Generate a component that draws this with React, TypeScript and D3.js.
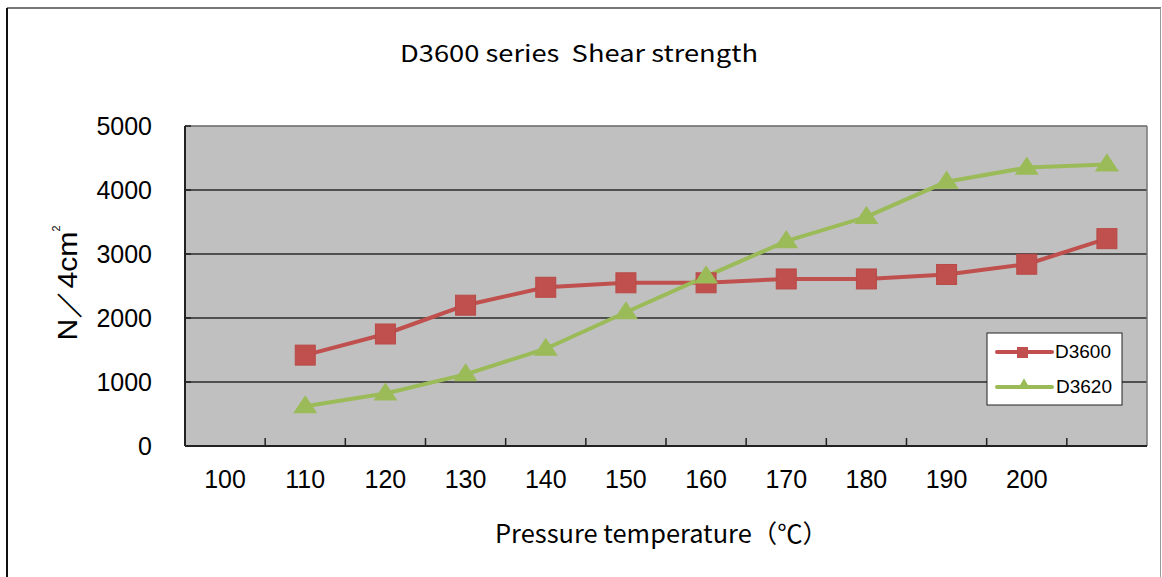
import React from "react";
import * as d3 from "d3";

const categories = ["100", "110", "120", "130", "140", "150", "160", "170", "180", "190", "200", ""];
const pointCategories = ["110", "120", "130", "140", "150", "160", "170", "180", "190", "200", ""];
const d3600 = [1420, 1750, 2200, 2480, 2550, 2550, 2610, 2610, 2680, 2840, 3240];
const d3620 = [620, 820, 1120, 1520, 2090, 2650, 3200, 3580, 4130, 4350, 4400];
const yTicks = [0, 1000, 2000, 3000, 4000, 5000];
const seriesNames = ["D3600", "D3620"];
const title = "D3600 series  Shear strength";
const xTitle = "Pressure temperature（℃）";

const W = 1162;
const H = 577;
const plot = { left: 185, right: 1147, top: 126, bottom: 446 };
const RED = "#C0504D";
const GREEN = "#9BBB59";

export default function App() {
  const x = d3.scaleBand<string>().domain(categories).range([plot.left, plot.right]).padding(0);
  const y = d3.scaleLinear().domain([0, 5000]).range([plot.bottom, plot.top]);
  const cx = (c: string) => (x(c) as number) + x.bandwidth() / 2;
  const line = d3
    .line<number>()
    .x((_, i) => cx(pointCategories[i]))
    .y((d) => y(d));
  const tri = d3.symbol().type(d3.symbolTriangle).size(190)();
  const tickFont = "'Liberation Sans', Arial, sans-serif";
  const jpFont = "'Noto Sans CJK JP', 'Noto Sans', sans-serif";
  const boundaries = categories.map((c) => x(c) as number).slice(1);

  return (
    <svg width={W} height={H} style={{ position: "absolute", left: 0, top: 0, background: "#fff" }}>
      {/* outer frame */}
      <line x1={7} y1={8} x2={1161} y2={8} stroke="#777" strokeWidth={2} />
      <line x1={7} y1={8} x2={7} y2={577} stroke="#111" strokeWidth={2} />
      <line x1={1160.5} y1={8} x2={1160.5} y2={577} stroke="#999" strokeWidth={1} />

      <text x={400} y={62} fontFamily={jpFont} fontSize={23} fill="#000" textLength={358} lengthAdjust="spacingAndGlyphs" style={{ whiteSpace: "pre" }}>
        {title}
      </text>

      {/* plot area */}
      <rect x={plot.left} y={plot.top} width={plot.right - plot.left} height={plot.bottom - plot.top} fill="#C0C0C0" />
      {yTicks.slice(1, -1).map((t) => (
        <line key={t} x1={plot.left} x2={plot.right} y1={y(t)} y2={y(t)} stroke="#2a2a2a" strokeWidth={1.5} />
      ))}
      <line x1={plot.left} x2={plot.right} y1={plot.top} y2={plot.top} stroke="#666" strokeWidth={1.5} />
      <line x1={plot.right} x2={plot.right} y1={plot.top} y2={plot.bottom} stroke="#777" strokeWidth={1.5} />
      <line x1={plot.left} x2={plot.left} y1={plot.top} y2={plot.bottom} stroke="#222" strokeWidth={2} />
      <line x1={plot.left} x2={plot.right} y1={plot.bottom} y2={plot.bottom} stroke="#222" strokeWidth={2} />
      {boundaries.map((b, i) => (
        <line key={i} x1={b} x2={b} y1={plot.bottom} y2={plot.bottom - 8} stroke="#222" strokeWidth={1.5} />
      ))}
      {yTicks.map((t) => (
        <line key={"yt" + t} x1={plot.left} x2={plot.left + 6} y1={y(t)} y2={y(t)} stroke="#222" strokeWidth={1.5} />
      ))}

      {/* y tick labels */}
      {yTicks.map((t) => (
        <text key={"yl" + t} x={152} y={y(t) + 9} textAnchor="end" fontFamily={tickFont} fontSize={25} fill="#000">
          {t}
        </text>
      ))}
      {/* x tick labels */}
      {categories.map((c, i) => (
        <text key={"xl" + i} x={cx(c)} y={488} textAnchor="middle" fontFamily={tickFont} fontSize={25} fill="#000">
          {c}
        </text>
      ))}

      {/* axis titles */}
      <text x={495} y={543} fontFamily={jpFont} fontSize={25} fill="#000" textLength={333} lengthAdjust="spacingAndGlyphs">
        {xTitle}
      </text>
      <text transform="translate(77,283) rotate(-90)" textAnchor="middle" fontFamily={tickFont} fontSize={28} fill="#000" textLength={115} lengthAdjust="spacingAndGlyphs">
        <tspan>N／4cm</tspan>
        <tspan fontSize={10} dy={-17}>2</tspan>
      </text>

      {/* series */}
      <path d={line(d3600) as string} fill="none" stroke={RED} strokeWidth={4} strokeLinejoin="round" />
      <path d={line(d3620) as string} fill="none" stroke={GREEN} strokeWidth={4} strokeLinejoin="round" />
      {d3600.map((v, i) => (
        <rect key={"r" + i} x={cx(pointCategories[i]) - 10} y={y(v) - 10} width={20} height={20} fill={RED} stroke="#B84A47" strokeWidth={1} />
      ))}
      {d3620.map((v, i) => (
        <path key={"g" + i} d={tri as string} transform={`translate(${cx(pointCategories[i])},${y(v) + 1}) scale(1.15,1)`} fill={GREEN} />
      ))}

      {/* legend */}
      <rect x={987} y={333} width={135} height={72} fill="#fff" stroke="#222" strokeWidth={1} />
      <line x1={997} x2={1052} y1={352} y2={352} stroke={RED} strokeWidth={4} strokeLinecap="round" />
      <rect x={1017} y={347} width={11} height={11} fill={RED} />
      <text x={1055} y={358} fontFamily={tickFont} fontSize={18} fill="#000" textLength={56} lengthAdjust="spacingAndGlyphs">
        {seriesNames[0]}
      </text>
      <line x1={997} x2={1052} y1={387} y2={387} stroke={GREEN} strokeWidth={4} strokeLinecap="round" />
      <path d={d3.symbol().type(d3.symbolTriangle).size(60)() as string} transform="translate(1024,385)" fill={GREEN} />
      <text x={1056} y={393} fontFamily={tickFont} fontSize={18} fill="#000" textLength={56} lengthAdjust="spacingAndGlyphs">
        {seriesNames[1]}
      </text>
    </svg>
  );
}
